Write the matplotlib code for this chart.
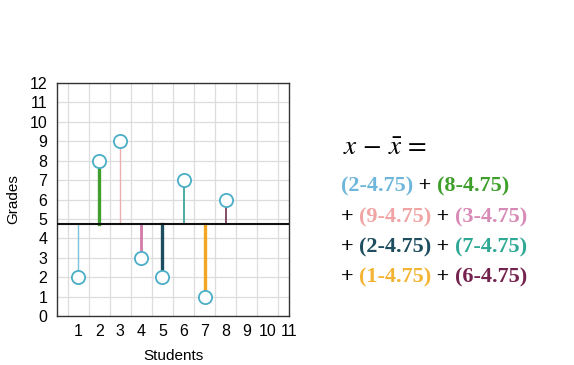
import numpy as np
import matplotlib.pyplot as plt
from matplotlib.offsetbox import TextArea, HPacker, AnchoredOffsetbox

# data
students = [1, 2, 3, 4, 5, 6, 7, 8]
grades = [2, 8, 9, 3, 2, 7, 1, 6]
mean_grade = 4.75
stem_colors = ['#7cc4de', '#3f9f2c', '#e8b0b0', '#d27aa8', '#1d4d5e', '#2e9f92', '#f2a623', '#6e2d4c']
stem_widths = [1.0, 2.4, 1.0, 2.0, 2.4, 1.2, 2.4, 1.2]
text_colors = ['#6fb6dc', '#3f9f2c', '#f0a4a4', '#d88ab6', '#1d4d5e', '#30a896', '#f4b433', '#74224e']

plt.rcParams['font.family'] = ['Liberation Sans', 'DejaVu Sans']

fig = plt.figure(figsize=(5.74, 3.65), dpi=100)
ax = fig.add_axes([0.0993, 0.134, 0.4042, 0.6386])

for s, g, c, w in zip(students, grades, stem_colors, stem_widths):
	ax.plot([s, s], [mean_grade, g], color=c, lw=w, zorder=2)
ax.axhline(mean_grade, color='#111111', lw=1.5, zorder=3)
ax.plot(students, grades, 'o', ms=9.5, mfc='white', mec='#4aaec6', mew=1.3, zorder=4)

ax.set_xlim(0, 11)
ax.set_ylim(0, 12)
ax.set_xticks(range(1, 12))
ax.set_yticks(range(0, 13))
ax.set_xticks(np.arange(0.5, 11, 1), minor=True)
ax.tick_params(which='both', length=0)
ax.tick_params(axis='y', labelsize=11.5, pad=7)
ax.tick_params(axis='x', labelsize=11.5, pad=6)
ax.grid(which='major', axis='y', color='#dddddd', lw=0.9)
ax.grid(which='minor', axis='x', color='#dddddd', lw=0.9)
ax.set_axisbelow(True)
for sp in ax.spines.values():
	sp.set_color('#333333')
	sp.set_linewidth(1.0)
ax.set_xlabel('Students', fontsize=11, labelpad=7)
ax.set_ylabel('Grades', fontsize=11, labelpad=7)

# formula on the right
fig.text(0.598, 0.595, r'$x\,-\,\bar{x}\,=$', fontsize=19.5, math_fontfamily='stix', va='center', ha='left')

pieces = [
	[('(2-4.75)', 0), (' + ', None), ('(8-4.75)', 1)],
	[('+ ', None), ('(9-4.75)', 2), (' + ', None), ('(3-4.75)', 3)],
	[('+ ', None), ('(2-4.75)', 4), (' + ', None), ('(7-4.75)', 5)],
	[('+ ', None), ('(1-4.75)', 6), (' + ', None), ('(6-4.75)', 7)],
]
line_y = [0.49, 0.405, 0.322, 0.24]
for row, y in zip(pieces, line_y):
	boxes = []
	for txt, ci in row:
		col = 'black' if ci is None else text_colors[ci]
		boxes.append(TextArea(txt, textprops=dict(color=col, fontsize=16, fontweight='bold',
			family='Liberation Serif')))
	pack = HPacker(children=boxes, pad=0, sep=0)
	ab = AnchoredOffsetbox(loc='center left', child=pack, pad=0, frameon=False,
		bbox_to_anchor=(0.594, y), bbox_transform=fig.transFigure, borderpad=0)
	fig.add_artist(ab)

plt.savefig('out.png', dpi=100)
